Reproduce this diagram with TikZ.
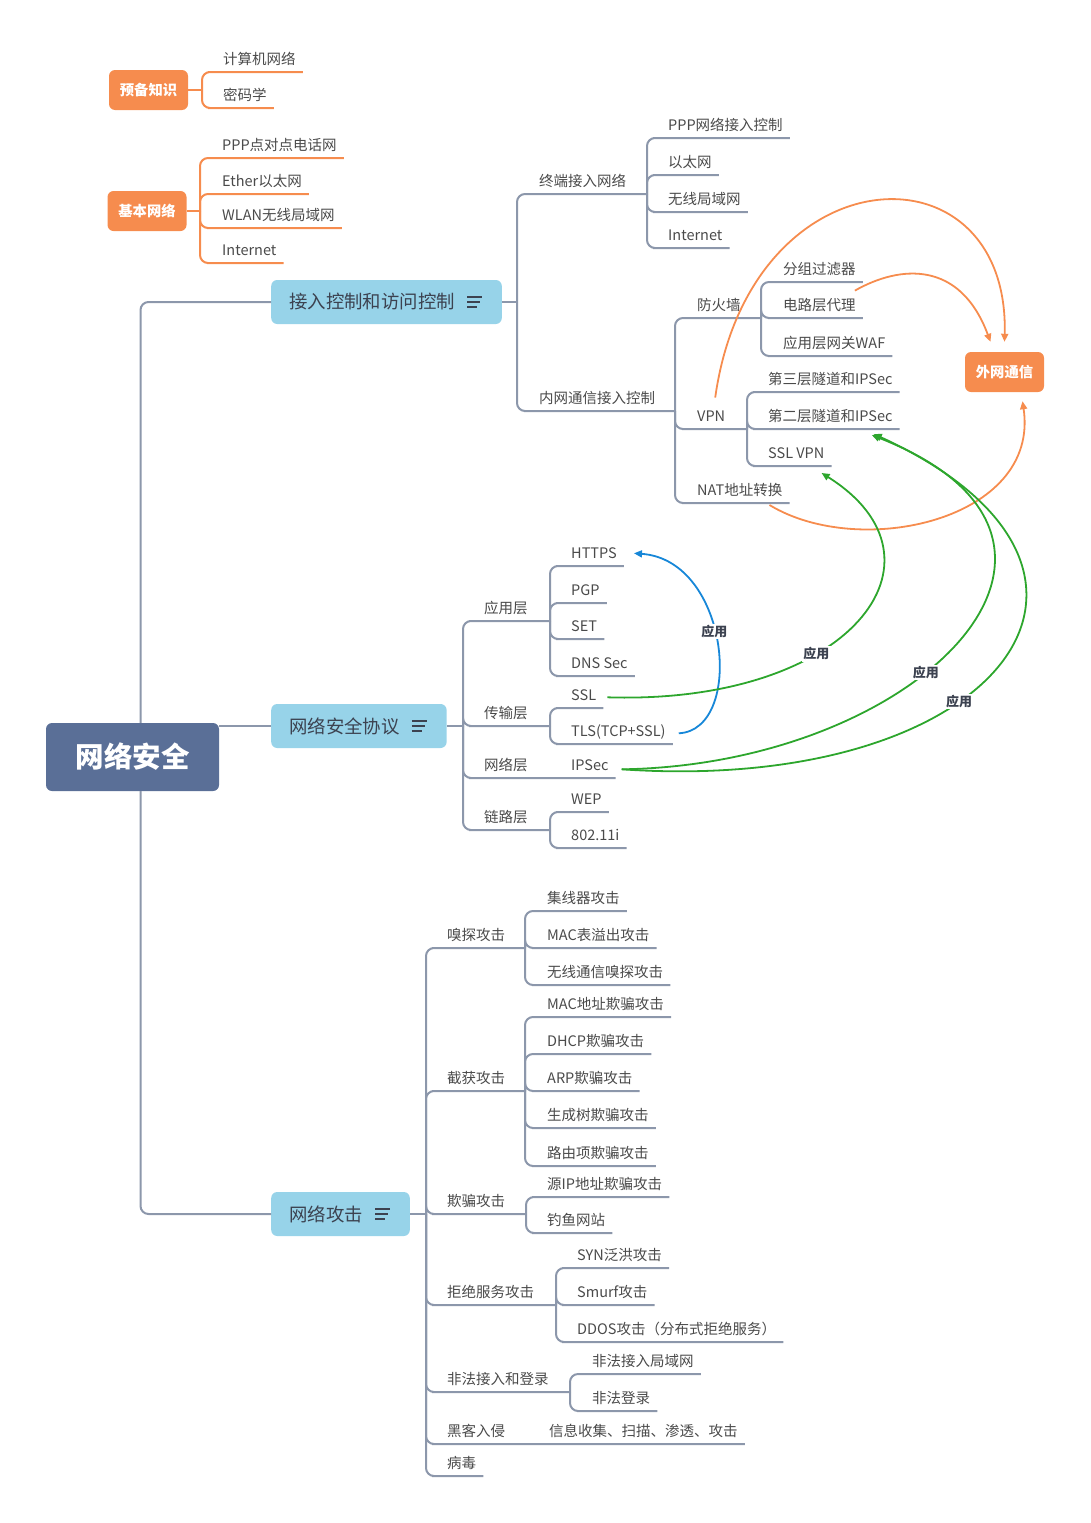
\documentclass[tikz,border=0pt]{standalone}
\usepackage{fontspec}
\setmainfont{Noto Sans CJK SC}
\usetikzlibrary{arrows.meta}

\definecolor{rootblue}{HTML}{5A6F97}
\definecolor{topicblue}{HTML}{97D3E9}
\definecolor{mapgray}{HTML}{8C97AB}
\definecolor{inkgray}{HTML}{4A4A4A}
\definecolor{inkdark}{HTML}{3C4250}
\definecolor{warmorange}{HTML}{F68C4E}
\definecolor{linkgreen}{HTML}{2DA62D}
\definecolor{linkblue}{HTML}{1787D8}

\newcommand\leaffont{\fontsize{14.5}{17}\selectfont}
\newcommand\topicfont{\fontsize{18.4}{22}\selectfont}
\newcommand\rootfont{\fontsize{28.5}{34}\selectfont\bfseries}
\newcommand\hintfont{\fontsize{14.3}{17}\selectfont\bfseries}
\newcommand\labelfont{\fontsize{13}{15}\selectfont\bfseries}

\begin{document}
\begin{tikzpicture}[x=1pt,y=-1pt]

    \tikzset{
      leaf/.style={
        anchor=south west,
        inner xsep=7pt,
        inner ysep=0pt,
        text height=14pt,
        text depth=7pt,
        font=\leaffont,
        text=inkgray,
      },
      topic/.style={
        anchor=west,
        fill=topicblue,
        rounded corners=6pt,
        minimum height=44pt,
        inner xsep=18pt,
        font=\topicfont,
        text=inkdark,
      },
      rootbox/.style={
        fill=rootblue,
        rounded corners=6pt,
        minimum width=173pt,
        minimum height=68pt,
        font=\rootfont,
        text=white,
      },
      hint/.style={
        fill=warmorange,
        rounded corners=6pt,
        minimum width=79pt,
        minimum height=40pt,
        font=\hintfont,
        text=white,
      },
      branch/.style={draw=mapgray, line width=2pt, rounded corners=8pt},
      obranch/.style={branch, draw=warmorange},
      iconline/.style={draw=inkdark, line width=1.5pt},
      oarrow/.style={draw=warmorange, line width=1.8pt, -{Triangle[length=8pt,width=7pt]}},
      garrow/.style={draw=linkgreen, line width=1.8pt, -{Triangle[length=8pt,width=7pt]}},
      barrow/.style={draw=linkblue, line width=1.8pt, -{Triangle[length=8pt,width=7pt]}},
      uselabel/.style={fill=white, inner sep=1.5pt, font=\labelfont, text=inkdark},
    }
    \useasboundingbox (0,0) rectangle (1091,1523);

    \node[rootbox] (root) at (132.5,757) {网络安全};
    \node[topic] (acc) at (271,302) {接入控制和访问控制\kern29pt};
    \node[topic] (proto) at (271,726) {网络安全协议\kern29pt};
    \node[topic] (att) at (271,1214) {网络攻击\kern29pt};
    \foreach \t in {acc,proto,att}{
      \draw[iconline] ([xshift=-35pt,yshift=5pt]\t.east) -- ++(15,0);
      \draw[iconline] ([xshift=-35pt]\t.east) -- ++(13,0);
      \draw[iconline] ([xshift=-35pt,yshift=-5pt]\t.east) -- ++(10,0);
    }

    \node[hint] (prep) at (148.5,90) {预备知识};
    \node[hint] (base) at (147,211) {基本网络};
    \node[hint] (ext) at (1004.5,372) {外网通信};

    \coordinate (prepj) at (202,90);
    \node[leaf] (k1) at (216,72) {计算机网络};
    \node[leaf] (k2) at (216,108) {密码学};
    \coordinate (basej) at (200,211);
    \node[leaf] (b1) at (215,158) {PPP点对点电话网};
    \node[leaf] (b2) at (215,194) {Ether以太网};
    \node[leaf] (b3) at (215,228) {WLAN无线局域网};
    \node[leaf] (b4) at (215,263) {Internet};

    \coordinate (accj) at (517,302);
    \node[leaf] (tnet) at (532,194) {终端接入网络};
    \coordinate (tnetj) at (647,194);
    \node[leaf] (t1) at (661,138) {PPP网络接入控制};
    \node[leaf] (t2) at (661,175) {以太网};
    \node[leaf] (t3) at (661,212) {无线局域网};
    \node[leaf] (t4) at (661,248) {Internet};
    \node[leaf] (inner) at (532,411) {内网通信接入控制};
    \coordinate (innerj) at (675,411);
    \node[leaf] (fw) at (690,318) {防火墙};
    \coordinate (fwj) at (761,318);
    \node[leaf] (f1) at (776,282) {分组过滤器};
    \node[leaf] (f2) at (776,318) {电路层代理};
    \node[leaf] (f3) at (776,356) {应用层网关WAF};
    \node[leaf] (vpn) at (690,429) {VPN};
    \coordinate (vpnj) at (747,429);
    \node[leaf] (v1) at (761,392) {第三层隧道和IPSec};
    \node[leaf] (v2) at (761,429) {第二层隧道和IPSec};
    \node[leaf] (v3) at (761,466) {SSL VPN};
    \node[leaf] (nat) at (690,503) {NAT地址转换};

    \coordinate (protoj) at (463,726);
    \node[leaf] (app) at (477,621) {应用层};
    \coordinate (appj) at (550,621);
    \node[leaf] (h1) at (564,566) {HTTPS};
    \node[leaf] (h2) at (564,603) {PGP};
    \node[leaf] (h3) at (564,639) {SET};
    \node[leaf] (h4) at (564,676) {DNS Sec};
    \node[leaf] (trans) at (477,726) {传输层};
    \coordinate (transj) at (550,726);
    \node[leaf] (s1) at (564,708) {SSL};
    \node[leaf] (s2) at (564,744) {TLS(TCP+SSL)};
    \node[leaf] (netl) at (477,778) {网络层};
    \node[leaf] (ipsec) at (564,778) {IPSec};
    \node[leaf] (link) at (477,830) {链路层};
    \coordinate (linkj) at (550,830);
    \node[leaf] (w1) at (564,812) {WEP};
    \node[leaf] (w2) at (564,848) {802.11i};

    \coordinate (attj) at (426,1214);
    \node[leaf] (sniff) at (440,948) {嗅探攻击};
    \coordinate (sniffj) at (525,948);
    \node[leaf] (n1) at (540,911) {集线器攻击};
    \node[leaf] (n2) at (540,948) {MAC表溢出攻击};
    \node[leaf] (n3) at (540,985) {无线通信嗅探攻击};
    \node[leaf] (cap) at (440,1091) {截获攻击};
    \coordinate (capj) at (525,1091);
    \node[leaf] (c1) at (540,1017) {MAC地址欺骗攻击};
    \node[leaf] (c2) at (540,1054) {DHCP欺骗攻击};
    \node[leaf] (c3) at (540,1091) {ARP欺骗攻击};
    \node[leaf] (c4) at (540,1128) {生成树欺骗攻击};
    \node[leaf] (c5) at (540,1166) {路由项欺骗攻击};
    \node[leaf] (spoof) at (440,1214) {欺骗攻击};
    \coordinate (spoofj) at (526,1214);
    \node[leaf] (p1) at (540,1197) {源IP地址欺骗攻击};
    \node[leaf] (p2) at (540,1233) {钓鱼网站};
    \node[leaf] (dos) at (440,1305) {拒绝服务攻击};
    \coordinate (dosj) at (556,1305);
    \node[leaf] (d1) at (570,1268) {SYN泛洪攻击};
    \node[leaf] (d2) at (570,1305) {Smurf攻击};
    \node[leaf] (d3) at (570,1342) {DDOS攻击（分布式拒绝服务）};
    \node[leaf] (ill) at (440,1392) {非法接入和登录};
    \coordinate (illj) at (570,1392);
    \node[leaf] (i1) at (585,1374) {非法接入局域网};
    \node[leaf] (i2) at (585,1411) {非法登录};
    \node[leaf] (hack) at (440,1444) {黑客入侵};
    \node[leaf] (hk) at (542,1444) {信息收集、扫描、渗透、攻击};
    \node[leaf] (virus) at (440,1476) {病毒};

    \draw[branch] ([xshift=8pt]root.north) |- (acc.west);
    \draw[branch] (root.east |- proto.west) -- (proto.west);
    \draw[branch] ([xshift=8pt]root.south) |- (att.west);

    \draw[obranch] (prep.east) -- (prepj);
    \foreach \k in {k1,k2} \draw[obranch] (prepj) |- (\k.south west) -- (\k.south east);
    \draw[obranch] (base.east) -- (basej);
    \foreach \k in {b1,b2,b3,b4} \draw[obranch] (basej) |- (\k.south west) -- (\k.south east);

    \draw[branch] (acc.east) -- (accj);
    \foreach \k/\j in {tnet/tnetj,inner/innerj} \draw[branch] (accj) |- (\k.south west) -- (\j);
    \foreach \k in {t1,t2,t3,t4} \draw[branch] (tnetj) |- (\k.south west) -- (\k.south east);
    \foreach \k/\j in {fw/fwj,vpn/vpnj} \draw[branch] (innerj) |- (\k.south west) -- (\j);
    \draw[branch] (innerj) |- (nat.south west) -- (nat.south east);
    \foreach \k in {f1,f2,f3} \draw[branch] (fwj) |- (\k.south west) -- (\k.south east);
    \foreach \k in {v1,v2,v3} \draw[branch] (vpnj) |- (\k.south west) -- (\k.south east);

    \draw[branch] (proto.east) -- (protoj);
    \foreach \k/\j in {app/appj,trans/transj,link/linkj} \draw[branch] (protoj) |- (\k.south west) -- (\j);
    \draw[branch] (protoj) |- (netl.south west) -- (ipsec.south east);
    \foreach \k in {h1,h2,h3,h4} \draw[branch] (appj) |- (\k.south west) -- (\k.south east);
    \foreach \k in {s1,s2} \draw[branch] (transj) |- (\k.south west) -- (\k.south east);
    \foreach \k in {w1,w2} \draw[branch] (linkj) |- (\k.south west) -- (\k.south east);

    \draw[branch] (att.east) -- (attj);
    \foreach \k/\j in {sniff/sniffj,cap/capj,spoof/spoofj,dos/dosj,ill/illj} \draw[branch] (attj) |- (\k.south west) -- (\j);
    \draw[branch] (attj) |- (hack.south west) -- (hk.south east);
    \draw[branch] (attj) |- (virus.south west) -- (virus.south east);
    \foreach \k in {n1,n2,n3} \draw[branch] (sniffj) |- (\k.south west) -- (\k.south east);
    \foreach \k in {c1,c2,c3,c4,c5} \draw[branch] (capj) |- (\k.south west) -- (\k.south east);
    \foreach \k in {p1,p2} \draw[branch] (spoofj) |- (\k.south west) -- (\k.south east);
    \foreach \k in {d1,d2,d3} \draw[branch] (dosj) |- (\k.south west) -- (\k.south east);
    \foreach \k in {i1,i2} \draw[branch] (illj) |- (\k.south west) -- (\k.south east);

    \draw[oarrow] ([xshift=4pt,yshift=10pt]vpn.north) .. controls (750,150) and (1010,140) .. ([yshift=10pt]ext.north);
    \draw[oarrow] ([xshift=-8pt,yshift=6pt]f2.north east) .. controls (900,265) and (960,260) .. ([xshift=-14pt,yshift=10pt]ext.north);
    \draw[oarrow] ([xshift=-20pt,yshift=-2pt]nat.south east) .. controls (860,560) and (1040,520) .. ([xshift=18pt,yshift=-9pt]ext.south);
    \draw[barrow] ([xshift=6pt]s2.east) .. controls (745,730) and (730,560) .. ([xshift=10pt,yshift=2pt]h1.east) node[uselabel,pos=0.55] {应用};
    \draw[garrow] ([xshift=4pt]s1.east) .. controls (850,705) and (960,560) .. ([xshift=-10pt,yshift=-7pt]v3.south east) node[uselabel,pos=0.37] {应用};
    \draw[garrow] ([xshift=6pt,yshift=-2pt]ipsec.east) .. controls (920,765) and (1140,540) .. ([xshift=-28pt,yshift=-6pt]v2.south east) node[uselabel,pos=0.42] {应用};
    \draw[garrow] ([xshift=6pt,yshift=-2pt]ipsec.east) .. controls (1000,795) and (1170,570) .. ([xshift=-26pt,yshift=-5pt]v2.south east) node[uselabel,pos=0.4] {应用};

\end{tikzpicture}
\end{document}
